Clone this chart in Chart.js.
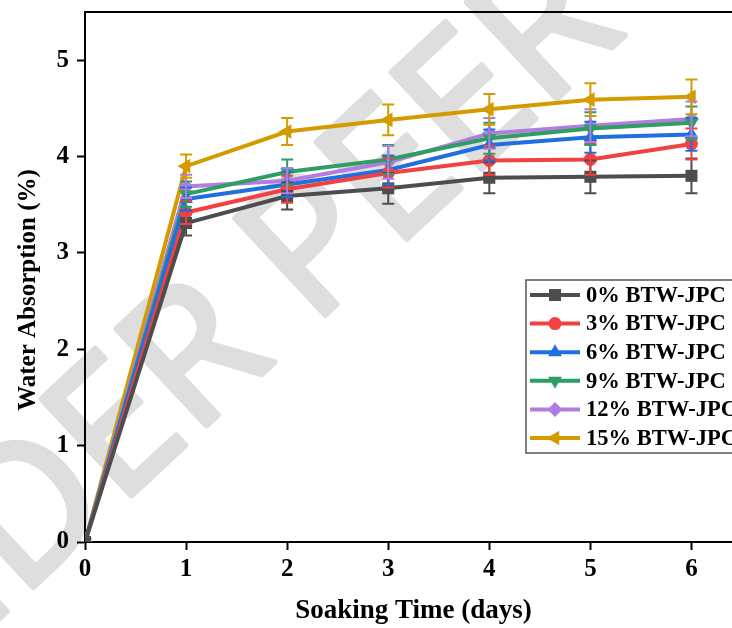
<!DOCTYPE html>
<html><head><meta charset="utf-8">
<script src="https://cdn.jsdelivr.net/npm/chart.js@4/dist/chart.umd.min.js"></script>
<style>
html,body{margin:0;padding:0;background:#fff;overflow:hidden;}
#wrap{position:relative;width:732px;height:628px;overflow:hidden;background:#fff;}
#c{position:absolute;left:0;top:0;}
</style></head><body>
<div id="wrap"><canvas id="c" width="760" height="628" style="width:760px;height:628px"></canvas></div>
<script>
// ---- data ----
const days = [0, 1, 2, 3, 4, 5, 6];
const xTicks = [0, 1, 2, 3, 4, 5, 6];
const yTicks = [0, 1, 2, 3, 4, 5];
const seriesNames = ['0% BTW-JPC', '3% BTW-JPC', '6% BTW-JPC', '9% BTW-JPC', '12% BTW-JPC', '15% BTW-JPC'];
const wa0  = [0, 3.31, 3.59, 3.67, 3.78, 3.79, 3.80];
const wa3  = [0, 3.42, 3.66, 3.83, 3.96, 3.97, 4.13];
const wa6  = [0, 3.56, 3.71, 3.86, 4.12, 4.20, 4.23];
const wa9  = [0, 3.61, 3.84, 3.97, 4.19, 4.29, 4.35];
const wa12 = [0, 3.69, 3.75, 3.94, 4.24, 4.32, 4.39];
const wa15 = [0, 3.90, 4.26, 4.38, 4.49, 4.59, 4.62];
const err0  = [0, 0.13, 0.14, 0.16, 0.16, 0.17, 0.18];
const err3  = [0, 0.12, 0.14, 0.15, 0.15, 0.16, 0.16];
const err6  = [0, 0.12, 0.13, 0.15, 0.16, 0.16, 0.17];
const err9  = [0, 0.13, 0.13, 0.15, 0.16, 0.17, 0.17];
const err12 = [0, 0.12, 0.13, 0.17, 0.16, 0.17, 0.18];
const err15 = [0, 0.12, 0.14, 0.16, 0.16, 0.17, 0.18];

const values = [wa0, wa3, wa6, wa9, wa12, wa15];
const errors = [err0, err3, err6, err9, err12, err15];
const colors = ['#4d4d4d', '#f24141', '#1f6fe0', '#2f9e63', '#b17ee0', '#d49b00'];
const styles = ['rect', 'circle', 'triangle', 'triangle', 'rectRot', 'triangle'];
const rotations = [0, 0, 0, 180, 0, -90];
const radii = [8.5, 6.5, 8, 8, 7.5, 8.5];

const FONT = '"Liberation Serif", "Times New Roman", serif';

const datasets = values.map((vals, i) => ({
  label: seriesNames[i],
  data: vals.map((v, j) => ({x: days[j], y: v})),
  errors: errors[i],
  borderColor: colors[i],
  backgroundColor: colors[i],
  borderWidth: 4,
  pointStyle: styles[i],
  pointRotation: rotations[i],
  pointRadius: radii[i],
  pointBorderWidth: 0,
  pointBackgroundColor: colors[i],
  tension: 0,
  clip: 0
}));

const watermark = {
  id: 'watermark',
  beforeDraw(chart) {
    const ctx = chart.ctx;
    ctx.save();
    ctx.font = '400 185px "Open Sans", "DejaVu Sans", sans-serif';
    const pre = ctx.measureText('UNDER ').width;
    ctx.translate(312, 327);
    ctx.rotate(-43 * Math.PI / 180);
    ctx.textAlign = 'left';
    ctx.textBaseline = 'alphabetic';
    ctx.fillStyle = '#dedede';
    ctx.strokeStyle = '#dedede';
    ctx.lineWidth = 6;
    ctx.lineJoin = 'round';
    ctx.strokeText('UNDER PEER REVIEW', -pre, 0);
    ctx.fillText('UNDER PEER REVIEW', -pre, 0);
    ctx.restore();
  }
};

const errorBars = {
  id: 'errorBars',
  afterDatasetsDraw(chart) {
    const ctx = chart.ctx, xs = chart.scales.x, ys = chart.scales.y;
    chart.data.datasets.forEach(ds => {
      ctx.save();
      ctx.strokeStyle = ds.borderColor;
      ctx.lineWidth = 2;
      ds.data.forEach((p, j) => {
        const e = ds.errors[j];
        if (!e) return;
        const x = xs.getPixelForValue(p.x);
        const y1 = ys.getPixelForValue(p.y + e), y2 = ys.getPixelForValue(p.y - e);
        ctx.beginPath();
        ctx.moveTo(x, y1); ctx.lineTo(x, y2);
        ctx.moveTo(x - 6, y1); ctx.lineTo(x + 6, y1);
        ctx.moveTo(x - 6, y2); ctx.lineTo(x + 6, y2);
        ctx.stroke();
      });
      ctx.restore();
    });
  }
};

const frameAndLegend = {
  id: 'frameAndLegend',
  afterDraw(chart) {
    const ctx = chart.ctx, a = chart.chartArea;
    ctx.save();
    ctx.strokeStyle = '#000';
    ctx.lineWidth = 2;
    ctx.beginPath();
    ctx.moveTo(a.left, a.top); ctx.lineTo(a.right, a.top); ctx.lineTo(a.right, a.bottom);
    ctx.stroke();
    // y-axis title
    ctx.save();
    ctx.translate(29, 290);
    ctx.rotate(-Math.PI / 2);
    ctx.font = 'bold 25px ' + FONT;
    ctx.fillStyle = '#000';
    ctx.textAlign = 'center';
    ctx.textBaseline = 'middle';
    ctx.fillText('Water Absorption (%)', 0, 0);
    ctx.restore();
    // legend
    const lx = 526, ly = 280, lw = 240, lh = 173;
    ctx.fillStyle = '#fff';
    ctx.fillRect(lx, ly, lw, lh);
    ctx.strokeStyle = '#555';
    ctx.lineWidth = 1.5;
    ctx.strokeRect(lx, ly, lw, lh);
    ctx.font = 'bold 22.5px ' + FONT;
    ctx.textBaseline = 'middle';
    ctx.textAlign = 'left';
    chart.data.datasets.forEach((ds, i) => {
      const y = ly + 15 + i * 28.6;
      ctx.strokeStyle = ds.borderColor;
      ctx.lineWidth = 4;
      ctx.beginPath(); ctx.moveTo(lx + 4, y); ctx.lineTo(lx + 54, y); ctx.stroke();
      ctx.fillStyle = ds.borderColor;
      Chart.helpers.drawPoint(ctx, {pointStyle: ds.pointStyle, rotation: ds.pointRotation, radius: ds.pointRadius, borderWidth: 0}, lx + 29, y);
      ctx.fillStyle = '#000';
      ctx.fillText(ds.label, lx + 60, y + 1);
    });
    ctx.restore();
  }
};

new Chart(document.getElementById('c'), {
  type: 'line',
  data: { datasets },
  plugins: [watermark, errorBars, frameAndLegend],
  options: {
    responsive: false,
    animation: false,
    layout: { padding: { top: 12, right: 18, left: 0, bottom: 0 } },
    plugins: { legend: { display: false }, tooltip: { enabled: false } },
    scales: {
      x: {
        type: 'linear', min: 0, max: 6.5,
        afterBuildTicks: s => { s.ticks = xTicks.map(v => ({value: v})); },
        afterFit: s => { s.height = 86; s.paddingLeft = 0; s.paddingRight = 0; },
        grid: { drawOnChartArea: false, drawTicks: true, tickLength: 8, tickWidth: 2, tickColor: '#000' },
        border: { display: true, color: '#000', width: 2 },
        ticks: { color: '#000', padding: 5, maxRotation: 0, font: { family: FONT, size: 25, weight: 'bold' } },
        title: { display: true, text: 'Soaking Time (days)', color: '#000', padding: { top: 0, bottom: 1 }, font: { family: FONT, size: 27, weight: 'bold' } }
      },
      y: {
        type: 'linear', min: 0, max: 5.5,
        afterBuildTicks: s => { s.ticks = yTicks.map(v => ({value: v})); },
        afterFit: s => { s.width = 85; s.paddingTop = 0; s.paddingBottom = 0; },
        grid: { drawOnChartArea: false, drawTicks: true, tickLength: 8, tickWidth: 2, tickColor: '#000' },
        border: { display: true, color: '#000', width: 2 },
        ticks: { color: '#000', padding: 8, font: { family: FONT, size: 25, weight: 'bold' } },
        title: { display: false }
      }
    }
  }
});
</script>
</body></html>
